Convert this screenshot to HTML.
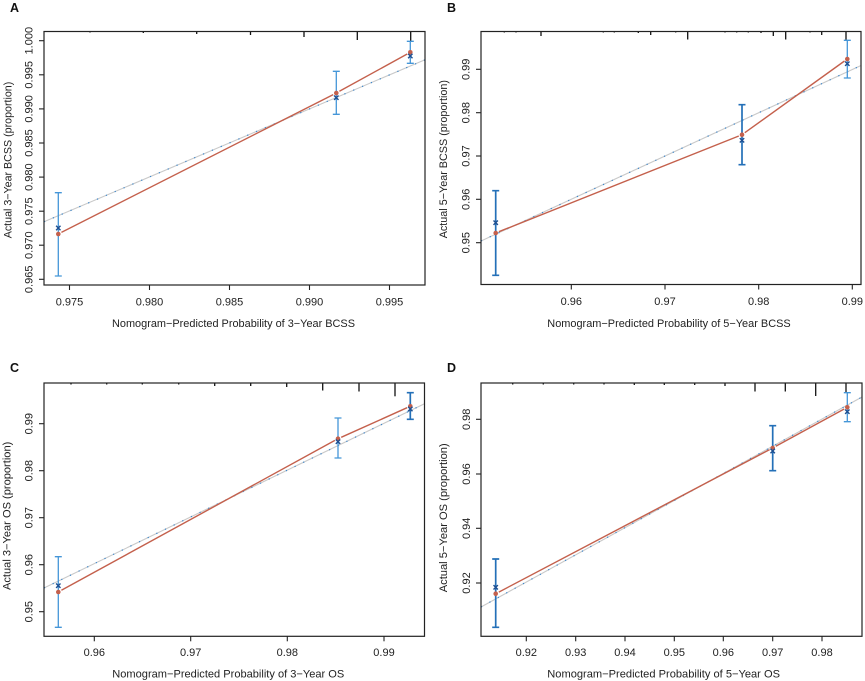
<!DOCTYPE html>
<html>
<head>
<meta charset="utf-8">
<style>
html,body{margin:0;padding:0;background:#fff;}
svg{display:block;}
text{font-family:"Liberation Sans",Arial,sans-serif;fill:#222;}
.t{font-size:11px;}
.lab{font-size:12.5px;font-weight:bold;fill:#111;}
.box{fill:none;stroke:#222;stroke-width:1.2;}
.tk{stroke:#222;stroke-width:1.1;}
.rug{stroke:#111;stroke-width:1.3;}
.ideal{stroke:#c9c9c9;stroke-width:1.1;}
.idealdot{stroke:#3a86cc;stroke-width:1.2;stroke-dasharray:1.2 8.4;}
.red{stroke:#c4604c;stroke-width:1.4;fill:none;}
.rp{fill:#c4604c;}
.bx{stroke:#1d4f91;stroke-width:1.4;fill:none;}
.eL{stroke:#4596d8;stroke-width:1.3;fill:none;}
.eD{stroke:#2470b8;stroke-width:1.7;fill:none;}
</style>
</head>
<body>
<svg width="865" height="681" viewBox="0 0 865 681" xmlns="http://www.w3.org/2000/svg">
<rect width="865" height="681" fill="#fff"/>

<!-- ================= PANEL A ================= -->
<text class="lab" x="10" y="12">A</text>
<!-- ideal line -->
<line class="ideal" x1="44" y1="221.8" x2="425" y2="59.8"/>
<line class="idealdot" x1="44" y1="221.8" x2="425" y2="59.8"/>
<!-- rug -->
<g class="rug">
<line x1="90" y1="31" x2="90" y2="32.5"/>
<line x1="143.3" y1="31" x2="143.3" y2="33"/>
<line x1="196.7" y1="31" x2="196.7" y2="34"/>
<line x1="250.5" y1="31" x2="250.5" y2="35"/>
<line x1="304" y1="31" x2="304" y2="37"/>
<line x1="357.3" y1="31" x2="357.3" y2="40"/>
<line x1="410.7" y1="31" x2="410.7" y2="41"/>
</g>
<!-- red line -->
<line class="red" x1="61.4" y1="232.4" x2="333.2" y2="94.6"/>
<line class="red" x1="339.4" y1="91.3" x2="407.2" y2="54.0"/>
<!-- error bars -->
<path class="eL" d="M58.3 192.7V276 M54.8 192.7H61.8 M54.8 276H61.8"/>
<path class="eL" d="M336.3 71.3V114.3 M332.8 71.3H339.8 M332.8 114.3H339.8"/>
<path class="eL" d="M410.3 41.3V63.3 M406.8 41.3H413.8 M406.8 63.3H413.8"/>
<!-- points -->
<circle class="rp" cx="58.3" cy="234" r="2.3"/>
<circle class="rp" cx="336.3" cy="93" r="2.3"/>
<circle class="rp" cx="410.3" cy="52.3" r="2.3"/>
<path class="bx" d="M56.1 225.8L60.5 230.2M56.1 230.2L60.5 225.8"/>
<path class="bx" d="M334.1 95.5L338.5 99.9M334.1 99.9L338.5 95.5"/>
<path class="bx" d="M408.1 53.8L412.5 58.2M408.1 58.2L412.5 53.8"/>
<!-- box -->
<rect class="box" x="44" y="31.5" width="381" height="253.5"/>
<!-- x ticks -->
<g class="tk">
<line x1="69.5" y1="285" x2="69.5" y2="290"/>
<line x1="149.5" y1="285" x2="149.5" y2="290"/>
<line x1="229.5" y1="285" x2="229.5" y2="290"/>
<line x1="309.5" y1="285" x2="309.5" y2="290"/>
<line x1="389.5" y1="285" x2="389.5" y2="290"/>
</g>
<g class="t" text-anchor="middle">
<text x="69.5" y="305.5">0.975</text>
<text x="149.5" y="305.5">0.980</text>
<text x="229.5" y="305.5">0.985</text>
<text x="309.5" y="305.5">0.990</text>
<text x="389.5" y="305.5">0.995</text>
</g>
<!-- y ticks -->
<g class="tk">
<line x1="39" y1="40.7" x2="44" y2="40.7"/>
<line x1="39" y1="74.8" x2="44" y2="74.8"/>
<line x1="39" y1="108.9" x2="44" y2="108.9"/>
<line x1="39" y1="143" x2="44" y2="143"/>
<line x1="39" y1="177.1" x2="44" y2="177.1"/>
<line x1="39" y1="211.2" x2="44" y2="211.2"/>
<line x1="39" y1="245.2" x2="44" y2="245.2"/>
<line x1="39" y1="279.3" x2="44" y2="279.3"/>
</g>
<g class="t" text-anchor="middle">
<text transform="translate(32.5,40.7) rotate(-90)">1.000</text>
<text transform="translate(32.5,74.8) rotate(-90)">0.995</text>
<text transform="translate(32.5,108.9) rotate(-90)">0.990</text>
<text transform="translate(32.5,143) rotate(-90)">0.985</text>
<text transform="translate(32.5,177.1) rotate(-90)">0.980</text>
<text transform="translate(32.5,211.2) rotate(-90)">0.975</text>
<text transform="translate(32.5,245.2) rotate(-90)">0.970</text>
<text transform="translate(32.5,279.3) rotate(-90)">0.965</text>
</g>
<text class="t" x="112" y="327" textLength="243" lengthAdjust="spacingAndGlyphs">Nomogram−Predicted Probability of 3−Year BCSS</text>
<text class="t" transform="translate(11.5,238.3) rotate(-90)" textLength="156.6" lengthAdjust="spacingAndGlyphs">Actual 3−Year BCSS (proportion)</text>

<!-- ================= PANEL B ================= -->
<text class="lab" x="447" y="12">B</text>
<line class="ideal" x1="481" y1="241" x2="861" y2="65.5"/>
<line class="idealdot" x1="481" y1="241" x2="861" y2="65.5"/>
<g class="rug">
<line x1="504.3" y1="31" x2="504.3" y2="32.5"/>
<line x1="516" y1="31" x2="516" y2="32.5"/>
<line x1="541" y1="31" x2="541" y2="36"/>
<line x1="603.3" y1="31" x2="603.3" y2="32.5"/>
<line x1="614.3" y1="31" x2="614.3" y2="32.5"/>
<line x1="638.3" y1="31" x2="638.3" y2="33"/>
<line x1="650.7" y1="31" x2="650.7" y2="35"/>
<line x1="675.7" y1="31" x2="675.7" y2="32.5"/>
<line x1="687.7" y1="31" x2="687.7" y2="39.5"/>
<line x1="725" y1="31" x2="725" y2="32.5"/>
<line x1="736.7" y1="31" x2="736.7" y2="32.5"/>
<line x1="748.3" y1="31" x2="748.3" y2="32.5"/>
<line x1="761" y1="31" x2="761" y2="33"/>
<line x1="773.3" y1="31" x2="773.3" y2="36"/>
<line x1="785.7" y1="31" x2="785.7" y2="39.5"/>
<line x1="810" y1="31" x2="810" y2="32.5"/>
<line x1="821.7" y1="31" x2="821.7" y2="35"/>
<line x1="846" y1="31" x2="846" y2="40"/>
</g>
<line class="red" x1="498.9" y1="231.7" x2="738.8" y2="136.0"/>
<line class="red" x1="744.8" y1="132.7" x2="844.5" y2="61.0"/>
<path class="eD" d="M495.7 190.7V275.3 M492.2 190.7H499.2 M492.2 275.3H499.2"/>
<path class="eD" d="M742 104.7V164.7 M738.5 104.7H745.5 M738.5 164.7H745.5"/>
<path class="eL" d="M847.3 40.3V78 M843.8 40.3H850.8 M843.8 78H850.8"/>
<circle class="rp" cx="495.7" cy="233" r="2.3"/>
<circle class="rp" cx="742" cy="134.7" r="2.3"/>
<circle class="rp" cx="847.3" cy="59" r="2.3"/>
<path class="bx" d="M493.5 220.5L497.9 224.9M493.5 224.9L497.9 220.5"/>
<path class="bx" d="M739.8 138.1L744.2 142.5M739.8 142.5L744.2 138.1"/>
<path class="bx" d="M845.1 61.5L849.5 65.9M845.1 65.9L849.5 61.5"/>
<rect class="box" x="481" y="31.5" width="380" height="253"/>
<g class="tk">
<line x1="571.3" y1="284.5" x2="571.3" y2="289.5"/>
<line x1="665" y1="284.5" x2="665" y2="289.5"/>
<line x1="758.7" y1="284.5" x2="758.7" y2="289.5"/>
<line x1="852.3" y1="284.5" x2="852.3" y2="289.5"/>
</g>
<g class="t" text-anchor="middle">
<text x="571.3" y="305">0.96</text>
<text x="665" y="305">0.97</text>
<text x="758.7" y="305">0.98</text>
<text x="852.3" y="305">0.99</text>
</g>
<g class="tk">
<line x1="476" y1="69.3" x2="481" y2="69.3"/>
<line x1="476" y1="112.7" x2="481" y2="112.7"/>
<line x1="476" y1="156" x2="481" y2="156"/>
<line x1="476" y1="199.3" x2="481" y2="199.3"/>
<line x1="476" y1="242.7" x2="481" y2="242.7"/>
</g>
<g class="t" text-anchor="middle">
<text transform="translate(469.5,69.3) rotate(-90)">0.99</text>
<text transform="translate(469.5,112.7) rotate(-90)">0.98</text>
<text transform="translate(469.5,156) rotate(-90)">0.97</text>
<text transform="translate(469.5,199.3) rotate(-90)">0.96</text>
<text transform="translate(469.5,242.7) rotate(-90)">0.95</text>
</g>
<text class="t" x="547.3" y="327" textLength="243.4" lengthAdjust="spacingAndGlyphs">Nomogram−Predicted Probability of 5−Year BCSS</text>
<text class="t" transform="translate(447,238.3) rotate(-90)" textLength="158.3" lengthAdjust="spacingAndGlyphs">Actual 5−Year BCSS (proportion)</text>

<!-- ================= PANEL C ================= -->
<text class="lab" x="10" y="372">C</text>
<line class="ideal" x1="44" y1="588" x2="424.5" y2="403.7"/>
<line class="idealdot" x1="44" y1="588" x2="424.5" y2="403.7"/>
<g class="rug">
<line x1="71" y1="383" x2="71" y2="384.5"/>
<line x1="106.7" y1="383" x2="106.7" y2="384.5"/>
<line x1="142.3" y1="383" x2="142.3" y2="384.5"/>
<line x1="178.7" y1="383" x2="178.7" y2="384.5"/>
<line x1="214.7" y1="383" x2="214.7" y2="386"/>
<line x1="250.7" y1="383" x2="250.7" y2="386"/>
<line x1="286.7" y1="383" x2="286.7" y2="387"/>
<line x1="322.7" y1="383" x2="322.7" y2="390.5"/>
<line x1="359" y1="383" x2="359" y2="391.5"/>
<line x1="395" y1="383" x2="395" y2="396.3"/>
</g>
<line class="red" x1="61.4" y1="590.3" x2="334.9" y2="440.4"/>
<line class="red" x1="341.2" y1="437.3" x2="407.1" y2="407.7"/>
<path class="eL" d="M58.3 556.7V627.3 M54.8 556.7H61.8 M54.8 627.3H61.8"/>
<path class="eL" d="M338 418V458 M334.5 418H341.5 M334.5 458H341.5"/>
<path class="eD" d="M410.3 392.7V419.3 M406.8 392.7H413.8 M406.8 419.3H413.8"/>
<circle class="rp" cx="58.3" cy="592" r="2.3"/>
<circle class="rp" cx="338" cy="438.7" r="2.3"/>
<circle class="rp" cx="410.3" cy="406.3" r="2.3"/>
<path class="bx" d="M56.1 583.5L60.5 587.9M56.1 587.9L60.5 583.5"/>
<path class="bx" d="M335.8 439.5L340.2 443.9M335.8 443.9L340.2 439.5"/>
<path class="bx" d="M408.1 406.8L412.5 411.2M408.1 411.2L412.5 406.8"/>
<rect class="box" x="44" y="383" width="380.5" height="253.3"/>
<g class="tk">
<line x1="94.3" y1="636.3" x2="94.3" y2="641.3"/>
<line x1="190.7" y1="636.3" x2="190.7" y2="641.3"/>
<line x1="287.3" y1="636.3" x2="287.3" y2="641.3"/>
<line x1="384" y1="636.3" x2="384" y2="641.3"/>
</g>
<g class="t" text-anchor="middle">
<text x="94.3" y="656">0.96</text>
<text x="190.7" y="656">0.97</text>
<text x="287.3" y="656">0.98</text>
<text x="384" y="656">0.99</text>
</g>
<g class="tk">
<line x1="39" y1="423.7" x2="44" y2="423.7"/>
<line x1="39" y1="470.7" x2="44" y2="470.7"/>
<line x1="39" y1="517.7" x2="44" y2="517.7"/>
<line x1="39" y1="564.7" x2="44" y2="564.7"/>
<line x1="39" y1="611.7" x2="44" y2="611.7"/>
</g>
<g class="t" text-anchor="middle">
<text transform="translate(32.5,423.7) rotate(-90)">0.99</text>
<text transform="translate(32.5,470.7) rotate(-90)">0.98</text>
<text transform="translate(32.5,517.7) rotate(-90)">0.97</text>
<text transform="translate(32.5,564.7) rotate(-90)">0.96</text>
<text transform="translate(32.5,611.7) rotate(-90)">0.95</text>
</g>
<text class="t" x="112.3" y="677.5" textLength="232" lengthAdjust="spacingAndGlyphs">Nomogram−Predicted Probability of 3−Year OS</text>
<text class="t" transform="translate(10.5,590) rotate(-90)" textLength="148.3" lengthAdjust="spacingAndGlyphs">Actual 3−Year OS (proportion)</text>

<!-- ================= PANEL D ================= -->
<text class="lab" x="447" y="372">D</text>
<line class="ideal" x1="481" y1="607" x2="862" y2="397"/>
<line class="idealdot" x1="481" y1="607" x2="862" y2="397"/>
<g class="rug">
<line x1="512.7" y1="383" x2="512.7" y2="384.5"/>
<line x1="543.3" y1="383" x2="543.3" y2="384.5"/>
<line x1="573.7" y1="383" x2="573.7" y2="384.5"/>
<line x1="604" y1="383" x2="604" y2="384.5"/>
<line x1="634.3" y1="383" x2="634.3" y2="385"/>
<line x1="664.3" y1="383" x2="664.3" y2="385"/>
<line x1="694.7" y1="383" x2="694.7" y2="385"/>
<line x1="725" y1="383" x2="725" y2="386"/>
<line x1="755" y1="383" x2="755" y2="391.5"/>
<line x1="785.3" y1="383" x2="785.3" y2="391.5"/>
<line x1="815.7" y1="383" x2="815.7" y2="396"/>
<line x1="846" y1="383" x2="846" y2="393"/>
</g>
<line class="red" x1="498.8" y1="592.1" x2="769.6" y2="449.6"/>
<line class="red" x1="775.8" y1="446.3" x2="844.2" y2="409.0"/>
<path class="eD" d="M495.7 559V627.3 M492.2 559H499.2 M492.2 627.3H499.2"/>
<path class="eD" d="M772.7 425.7V470.7 M769.2 425.7H776.2 M769.2 470.7H776.2"/>
<path class="eL" d="M847.3 392.7V421.7 M843.8 392.7H850.8 M843.8 421.7H850.8"/>
<circle class="rp" cx="495.7" cy="593.7" r="2.3"/>
<circle class="rp" cx="772.7" cy="448" r="2.3"/>
<circle class="rp" cx="847.3" cy="407.3" r="2.3"/>
<path class="bx" d="M493.5 585.1L497.9 589.5M493.5 589.5L497.9 585.1"/>
<path class="bx" d="M770.5 448.8L774.9 453.2M770.5 453.2L774.9 448.8"/>
<path class="bx" d="M845.1 409.5L849.5 413.9M845.1 413.9L849.5 409.5"/>
<rect class="box" x="481" y="383" width="381" height="253.3"/>
<g class="tk">
<line x1="526.3" y1="636.3" x2="526.3" y2="641.3"/>
<line x1="575.7" y1="636.3" x2="575.7" y2="641.3"/>
<line x1="625" y1="636.3" x2="625" y2="641.3"/>
<line x1="674.3" y1="636.3" x2="674.3" y2="641.3"/>
<line x1="723.3" y1="636.3" x2="723.3" y2="641.3"/>
<line x1="772.7" y1="636.3" x2="772.7" y2="641.3"/>
<line x1="822" y1="636.3" x2="822" y2="641.3"/>
</g>
<g class="t" text-anchor="middle">
<text x="526.3" y="656">0.92</text>
<text x="575.7" y="656">0.93</text>
<text x="625" y="656">0.94</text>
<text x="674.3" y="656">0.95</text>
<text x="723.3" y="656">0.96</text>
<text x="772.7" y="656">0.97</text>
<text x="822" y="656">0.98</text>
</g>
<g class="tk">
<line x1="476" y1="419.3" x2="481" y2="419.3"/>
<line x1="476" y1="474" x2="481" y2="474"/>
<line x1="476" y1="528.3" x2="481" y2="528.3"/>
<line x1="476" y1="583" x2="481" y2="583"/>
</g>
<g class="t" text-anchor="middle">
<text transform="translate(470,419.3) rotate(-90)">0.98</text>
<text transform="translate(470,474) rotate(-90)">0.96</text>
<text transform="translate(470,528.3) rotate(-90)">0.94</text>
<text transform="translate(470,583) rotate(-90)">0.92</text>
</g>
<text class="t" x="547.3" y="677.5" textLength="232.7" lengthAdjust="spacingAndGlyphs">Nomogram−Predicted Probability of 5−Year OS</text>
<text class="t" transform="translate(447,592.3) rotate(-90)" textLength="149" lengthAdjust="spacingAndGlyphs">Actual 5−Year OS (proportion)</text>
</svg>
</body>
</html>
